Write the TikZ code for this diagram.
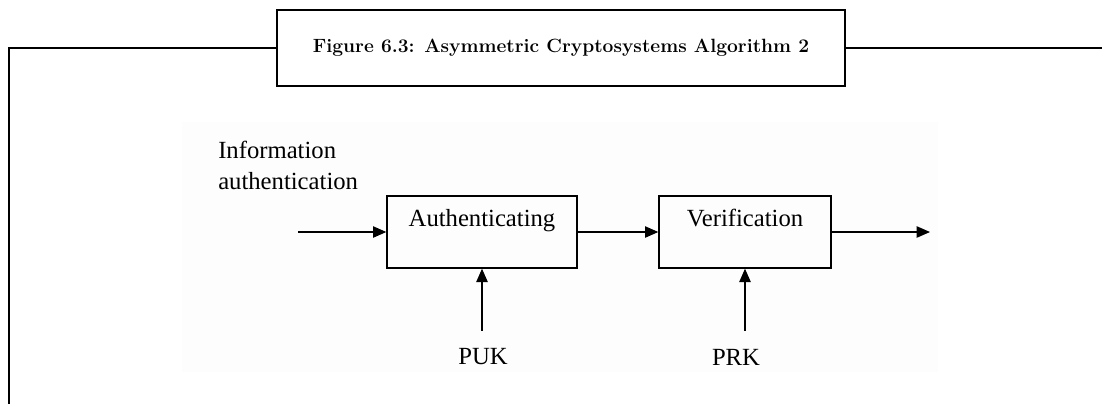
\documentclass[tikz,border=0pt]{standalone}
\usepackage{fontspec}
\usetikzlibrary{arrows.meta}
\newfontfamily\diagfont{Liberation Serif}

\begin{document}
\begin{tikzpicture}
  [x=0.75pt, y=-0.75pt,
   frame/.style={line width=1.6pt},
   block/.style={draw, line width=1pt, inner sep=0pt, minimum height=54pt,
     text height=12pt, text depth=20pt, font=\diagfont\fontsize{18.5}{22}\selectfont},
   keylabel/.style={font=\diagfont\fontsize{18.5}{23}\selectfont},
   flow/.style={line width=1pt, -{Triangle[length=10pt, width=8.5pt]}}]
  \useasboundingbox (0,0) rectangle (1102,404);
  \fill[black!0.8] (182,122) rectangle (938,372);
  \node[draw, frame, minimum width=426pt, minimum height=57pt,
    font=\bfseries\fontsize{14.4}{17}\selectfont] (cap) at (561,48)
    {Figure 6.3: Asymmetric Cryptosystems Algorithm 2};
  \coordinate (tl) at (9,48);
  \coordinate (bl) at (9,404);
  \coordinate (tr) at (1102,48);
  \draw[frame] (cap.west) -- (tl) -- (bl);
  \draw[frame] (cap.east) -- (tr);
  \node[keylabel, align=left, anchor=north west, inner sep=0pt] (info) at (218,141)
    {Information\\authentication};
  \node[block, minimum width=142.5pt] (auth) at (482,232) {Authenticating};
  \node[block, minimum width=129pt] (verif) at (745,232) {Verification};
  \node[keylabel] (puk) at (483,357) {PUK};
  \node[keylabel] (prk) at (736,357) {PRK};
  \coordinate (in) at (298,232);
  \coordinate (out) at (930,232);
  \draw[flow] (in) -- (auth);
  \draw[flow] (auth) -- (verif);
  \draw[flow] (verif) -- (out);
  \draw[flow, shorten <=10pt] (puk.north -| auth.south) -- (auth.south);
  \draw[flow, shorten <=10pt] (prk.north -| verif.south) -- (verif.south);
\end{tikzpicture}
\end{document}
